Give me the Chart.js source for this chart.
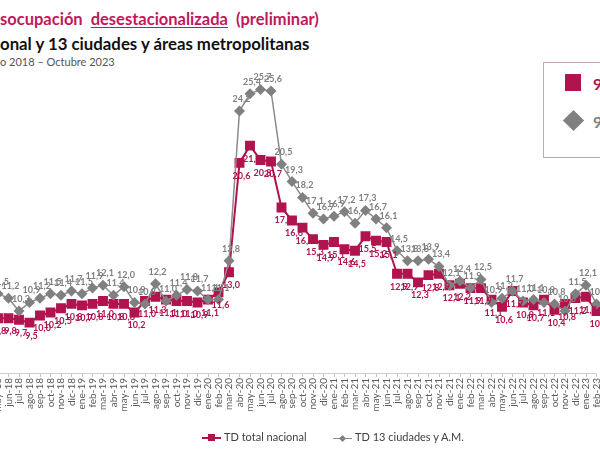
<!DOCTYPE html>
<html>
<head>
<meta charset="utf-8">
<script src="https://cdn.jsdelivr.net/npm/chart.js@4.4.0/dist/chart.umd.min.js"></script>
<style>
    html, body { margin: 0; padding: 0; background: #fff; }
    body { width: 600px; height: 450px; position: relative; overflow: hidden; font-family: 'Lato', 'Open Sans', sans-serif; }
    .t1 { position: absolute; left: 0; top: 9px; font-size: 16.5px; font-weight: bold; color: #C0185A; white-space: nowrap; word-spacing: 4px; }
    .t1 u { text-decoration-thickness: 1px; text-underline-offset: 2px; }
    .t2 { position: absolute; left: 0; top: 33px; font-size: 16.8px; font-weight: bold; color: #111; white-space: nowrap; }
    .t3 { position: absolute; left: 0; top: 55px; font-size: 11px; color: #555; white-space: nowrap; }
    .box { position: absolute; left: 543px; top: 62px; width: 80px; height: 94px; border: 1px solid #c9a8b4; }
    .sq { position: absolute; left: 565px; top: 74px; width: 16px; height: 17px; background: #B0134E; }
    .dm { position: absolute; left: 566px; top: 113px; width: 15px; height: 15px; background: #808080; transform: rotate(45deg); }
    .v1 { position: absolute; left: 593px; top: 74px; font-size: 16px; font-weight: bold; color: #B0134E; }
    .v2 { position: absolute; left: 593px; top: 112px; font-size: 16px; font-weight: bold; color: #808080; }
    #wrap { position: absolute; left: -20px; top: 0; width: 630px; height: 450px; }
    .leg { position: absolute; top: 430px; font-size: 11px; color: #404040; white-space: nowrap; }
    .leg .ln { display: inline-block; position: relative; width: 19px; height: 2px; vertical-align: middle; margin-right: 3px; }
    .leg .mk { position: absolute; left: 6px; top: -3px; width: 7px; height: 7px; }
</style>
</head>
<body>
<div class="t1">socupación <u>desestacionalizada</u> (preliminar)</div>
<div class="t2">onal y 13 ciudades y áreas metropolitanas</div>
<div class="t3">o 2018 – Octubre 2023</div>
<div class="box"></div>
<div class="sq"></div>
<div class="dm"></div>
<div class="v1">9</div>
<div class="v2">9</div>
<div id="wrap"><canvas id="chart" width="630" height="450"></canvas></div>
<div class="leg" style="left:202px"><span class="ln" style="background:#B0134E"><span class="mk" style="background:#B0134E"></span></span>TD total nacional</div>
<div class="leg" style="left:333px"><span class="ln" style="background:#8c8c8c;height:1px"><span class="mk" style="background:#808080;width:5px;height:5px;left:7px;top:-2px;transform:rotate(45deg)"></span></span>TD 13 ciudades y A.M.</div>
<script>
const months = ['may-18', 'jun-18', 'jul-18', 'ago-18', 'sep-18', 'oct-18', 'nov-18', 'dic-18',
    'ene-19', 'feb-19', 'mar-19', 'abr-19', 'may-19', 'jun-19', 'jul-19', 'ago-19', 'sep-19', 'oct-19', 'nov-19', 'dic-19',
    'ene-20', 'feb-20', 'mar-20', 'abr-20', 'may-20', 'jun-20', 'jul-20', 'ago-20', 'sep-20', 'oct-20', 'nov-20', 'dic-20',
    'ene-21', 'feb-21', 'mar-21', 'abr-21', 'may-21', 'jun-21', 'jul-21', 'ago-21', 'sep-21', 'oct-21', 'nov-21', 'dic-21',
    'ene-22', 'feb-22', 'mar-22', 'abr-22', 'may-22', 'jun-22', 'jul-22', 'ago-22', 'sep-22', 'oct-22', 'nov-22', 'dic-22',
    'ene-23', 'feb-23'];

const tdNacional = [9.8, 9.8, 9.7, 9.5, 10.0, 10.2, 10.5, 10.8,
    10.7, 10.8, 11.0, 10.8, 10.8, 10.2, 11.0, 11.3, 11.1, 11.0, 11.0, 10.9,
    11.1, 11.6, 13.0, 20.6, 21.8, 20.8, 20.7, 17.5, 16.6, 16.1, 15.3, 14.9,
    15.1, 14.6, 14.5, 15.5, 15.2, 15.1, 12.9, 12.9, 12.3, 12.8, 12.9, 12.1,
    12.2, 11.9, 11.9, 11.1, 10.6, 11.7, 10.9, 10.7, 11.1, 10.4, 10.8, 11.2,
    11.3, 10.3];

const td13Ciudades = [11.5, 11.2, 10.3, 10.9, 11.2, 11.5, 11.4, 11.7,
    11.5, 11.9, 12.1, 11.4, 12.0, 10.9, 10.8, 12.2, 11.0, 11.4, 11.8, 11.7,
    11.1, 11.1, 13.8, 24.2, 25.4, 25.7, 25.6, 20.5, 19.3, 18.2, 17.1, 16.7,
    16.9, 17.2, 16.4, 17.3, 16.7, 16.1, 14.5, 13.8, 13.8, 13.9, 13.4, 12.1,
    12.4, 11.9, 12.5, 10.9, 11.2, 11.7, 11.0, 11.1, 10.9, 10.8, 10.3, 11.5,
    12.1, 10.8];

const crimson = '#B0134E';
const grey = '#808080';

// etiquetas de valor (sin plugin externo)
const valueLabels = {
    id: 'valueLabels',
    afterDatasetsDraw(chart) {
        const ctx = chart.ctx;
        ctx.save();
        ctx.font = 'bold 9px Lato, sans-serif';
        ctx.textAlign = 'center';
        ctx.textBaseline = 'middle';
        chart.data.datasets.forEach((ds, i) => {
            const meta = chart.getDatasetMeta(i);
            ctx.fillStyle = ds.labelColor;
            meta.data.forEach((pt, idx) => {
                const txt = ds.data[idx].toFixed(1).replace('.', ',');
                ctx.fillText(txt, pt.x + ds.labelDx, pt.y + ds.labelDy);
            });
        });
        ctx.restore();
    }
};

new Chart(document.getElementById('chart').getContext('2d'), {
    type: 'line',
    data: {
        labels: months,
        datasets: [{
            label: 'TD 13 ciudades y A.M.',
            data: td13Ciudades,
            borderColor: '#8c8c8c',
            backgroundColor: grey,
            borderWidth: 1.5,
            pointStyle: 'rectRot',
            pointRadius: 5.5,
            pointBorderWidth: 0,
            labelColor: '#7f7f7f',
            labelDx: 2,
            labelDy: -12
        }, {
            label: 'TD total nacional',
            data: tdNacional,
            borderColor: crimson,
            backgroundColor: crimson,
            borderWidth: 2,
            pointStyle: 'rect',
            pointRadius: 7,
            pointBorderWidth: 0,
            labelColor: crimson,
            labelDx: 2,
            labelDy: 13
        }]
    },
    options: {
        responsive: false,
        animation: false,
        layout: { padding: { left: 18, right: 13.5, top: 56.4, bottom: 37 } },
        plugins: {
            legend: { display: false },
            tooltip: { enabled: false }
        },
        scales: {
            y: { display: false, min: 6, max: 28 },
            x: {
                afterFit: scale => { scale.height = 40; },
                border: { color: '#d0d0d0' },
                grid: { drawOnChartArea: false, tickLength: 4, color: '#c8c8c8' },
                ticks: {
                    autoSkip: false,
                    maxRotation: 90,
                    minRotation: 90,
                    padding: 1,
                    color: '#595959',
                    font: { family: 'Lato', size: 10 }
                }
            }
        }
    },
    plugins: [valueLabels]
});
</script>
</body>
</html>
